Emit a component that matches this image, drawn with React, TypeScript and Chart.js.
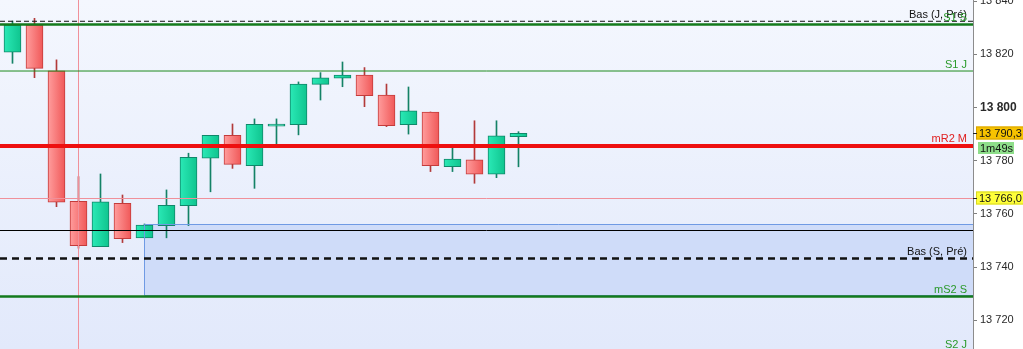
import { useEffect, useRef } from 'react';
import { Chart, registerables } from 'chart.js';

Chart.register(...registerables);

// OHLC for each bar, oldest first
const OPEN = [
  13820.8, 13831.0, 13813.8, 13764.7, 13747.7, 13764.0, 13751.0, 13755.6,
  13763.1, 13780.9, 13789.5, 13778.1, 13793.0, 13793.5, 13808.7, 13811.0,
  13812.2, 13804.7, 13793.5, 13798.3, 13777.7, 13780.3, 13774.9, 13789.0,
];
const HIGH = [
  13832.5, 13833.5, 13817.9, 13774.0, 13775.0, 13767.1, 13756.2, 13769.0,
  13782.8, 13789.5, 13793.8, 13795.7, 13795.7, 13809.6, 13813.1, 13817.1,
  13815.0, 13808.8, 13807.7, 13798.3, 13785.0, 13795.0, 13795.0, 13790.9,
];
const LOW = [
  13816.6, 13811.2, 13762.7, 13747.1, 13747.7, 13749.2, 13751.0, 13751.0,
  13755.6, 13768.3, 13777.1, 13769.6, 13785.3, 13789.7, 13802.8, 13807.8,
  13800.3, 13792.8, 13790.0, 13775.9, 13775.9, 13771.5, 13773.6, 13777.7,
];
const CLOSE = [
  13831.0, 13814.7, 13764.4, 13748.0, 13764.5, 13750.7, 13755.8, 13763.2,
  13781.3, 13789.5, 13778.6, 13793.7, 13793.5, 13808.8, 13811.1, 13812.2,
  13804.4, 13793.2, 13798.7, 13778.1, 13780.6, 13774.9, 13789.3, 13790.3,
];

// price axis
const Y_TICKS = [13720, 13740, 13760, 13780, 13800, 13820, 13840];
const Y_BOLD_TICK = 13800;
const Y_MIN = 13709.2;
const Y_MAX = 13840.4;
const X_MIN = -0.568;
const X_MAX = 43.66;

// support / resistance levels
const LEVEL_VALUES = [13832.4, 13831.2, 13813.7, 13785.5, 13743.2, 13728.9, 13708.5];
const LEVEL_NAMES = ['Bas (J, Pré)', 'S1 S', 'S1 J', 'mR2 M', 'Bas (S, Pré)', 'mS2 S', 'S2 J'];
const LEVEL_KINDS = ['low', 'weekly', 'daily', 'monthly', 'low2', 'weekly', 'daily'];

// plain reference line
const REF_LINE = 13753.9;

// highlighted zone starting at a bar
const ZONE_START = 6;
const ZONE_TOP = 13756.2;
const ZONE_BOTTOM = 13729.5;

// crosshair
const CURSOR_INDEX = 3;
const CURSOR_PRICE = 13766.0;

const LAST_PRICE = CLOSE[CLOSE.length - 1];
const COUNTDOWN = '1m49s';

const FONT = '"Liberation Sans", Arial, sans-serif';

const KIND_STYLE: Record<string, { color: string; text: string; width: number; dash: number[] }> = {
  low: { color: '#111111', text: '#111111', width: 1, dash: [5, 3] },
  low2: { color: '#111111', text: '#111111', width: 2.5, dash: [7, 5] },
  weekly: { color: '#137a1c', text: '#2a9a2a', width: 2.5, dash: [] },
  daily: { color: '#1e8a1e', text: '#2a9a2a', width: 1, dash: [] },
  monthly: { color: '#ee1010', text: '#e02020', width: 4, dash: [] },
};

function fmtPrice(v: number, decimals = 0): string {
  const s = v.toFixed(decimals);
  const [intPart, dec] = s.split('.');
  const withSpace = intPart.replace(/\B(?=(\d{3})+(?!\d))/g, ' ');
  return dec ? `${withSpace},${dec}` : withSpace;
}

type Candle = { x: number; y: [number, number]; up: boolean };

const bodies: Candle[] = OPEN.map((o, i) => ({ x: i, y: [o, CLOSE[i]], up: CLOSE[i] >= o }));
const wicks: Candle[] = OPEN.map((o, i) => ({ x: i, y: [LOW[i], HIGH[i]], up: CLOSE[i] >= o }));

const overlay = {
  id: 'overlay',
  beforeDraw(chart: any) {
    const { ctx, chartArea: a, width, height } = chart;
    ctx.save();
    ctx.fillStyle = '#ffffff';
    ctx.fillRect(0, 0, width, height);
    const g = ctx.createLinearGradient(0, a.top, 0, a.bottom);
    g.addColorStop(0, '#f4f7fe');
    g.addColorStop(1, '#e2e9fb');
    ctx.fillStyle = g;
    ctx.fillRect(a.left, a.top, a.right - a.left, a.bottom - a.top);
    ctx.restore();
  },
  beforeDatasetsDraw(chart: any) {
    const { ctx, chartArea: a, scales } = chart;
    const x0 = scales.x.getPixelForValue(ZONE_START);
    const yT = scales.y.getPixelForValue(ZONE_TOP);
    const yB = scales.y.getPixelForValue(ZONE_BOTTOM);
    ctx.save();
    ctx.fillStyle = '#cfdcf9';
    ctx.fillRect(x0, yT, a.right - x0, yB - yT);
    ctx.restore();
  },
  afterDatasetsDraw(chart: any) {
    const { ctx, chartArea: a, scales } = chart;
    const y = scales.y;
    ctx.save();
    ctx.beginPath();
    ctx.rect(a.left, a.top, a.right - a.left, a.bottom - a.top);
    ctx.clip();

    // zone outline
    const x0 = Math.round(scales.x.getPixelForValue(ZONE_START)) + 0.5;
    const yT = Math.round(y.getPixelForValue(ZONE_TOP)) + 0.5;
    const yB = Math.round(y.getPixelForValue(ZONE_BOTTOM)) + 0.5;
    ctx.strokeStyle = '#6f9ae4';
    ctx.lineWidth = 1;
    ctx.beginPath();
    ctx.moveTo(a.right, yT);
    ctx.lineTo(x0, yT);
    ctx.lineTo(x0, yB);
    ctx.lineTo(a.right, yB);
    ctx.stroke();

    // crosshair
    const cx = Math.round(scales.x.getPixelForValue(CURSOR_INDEX)) + 0.5;
    const cy = Math.round(y.getPixelForValue(CURSOR_PRICE)) + 0.5;
    ctx.strokeStyle = '#f0909a';
    ctx.beginPath();
    ctx.moveTo(cx, a.top);
    ctx.lineTo(cx, a.bottom);
    ctx.moveTo(a.left, cy);
    ctx.lineTo(a.right, cy);
    ctx.stroke();

    // reference line
    const ry = Math.round(y.getPixelForValue(REF_LINE)) + 0.5;
    ctx.strokeStyle = '#000000';
    ctx.beginPath();
    ctx.moveTo(a.left, ry);
    ctx.lineTo(a.right, ry);
    ctx.stroke();

    // levels
    LEVEL_VALUES.forEach((v, i) => {
      const st = KIND_STYLE[LEVEL_KINDS[i]];
      const py = y.getPixelForValue(v);
      ctx.strokeStyle = st.color;
      ctx.lineWidth = st.width;
      ctx.setLineDash(st.dash);
      ctx.beginPath();
      ctx.moveTo(a.left, py);
      ctx.lineTo(a.right, py);
      ctx.stroke();
    });
    ctx.setLineDash([]);
    ctx.restore();

    // level names
    ctx.save();
    ctx.font = `11px ${FONT}`;
    ctx.textAlign = 'right';
    ctx.textBaseline = 'alphabetic';
    LEVEL_VALUES.forEach((v, i) => {
      const st = KIND_STYLE[LEVEL_KINDS[i]];
      const py = y.getPixelForValue(v);
      ctx.fillStyle = st.text;
      ctx.fillText(LEVEL_NAMES[i], a.right - 6, py - st.width / 2 - 2.5);
    });
    ctx.restore();
  },
  afterDraw(chart: any) {
    const { ctx, chartArea: a, scales, width } = chart;
    const y = scales.y;
    ctx.save();
    ctx.font = `11px ${FONT}`;
    ctx.textBaseline = 'middle';
    ctx.textAlign = 'left';

    const box = (value: number, text: string, fill: string, stroke: string) => {
      const py = Math.round(y.getPixelForValue(value));
      ctx.fillStyle = fill;
      ctx.fillRect(a.right + 3, py - 6.5, width - a.right - 3, 13);
      ctx.strokeStyle = stroke;
      ctx.lineWidth = 1;
      ctx.strokeRect(a.right + 3.5, py - 6, width - a.right - 3, 12);
      ctx.strokeStyle = '#222';
      ctx.beginPath();
      ctx.moveTo(a.right, py + 0.5);
      ctx.lineTo(a.right + 4, py + 0.5);
      ctx.stroke();
      ctx.fillStyle = '#111';
      ctx.fillText(text, a.right + 6, py + 0.5);
      return py;
    };

    const lastY = box(LAST_PRICE, fmtPrice(LAST_PRICE, 1), '#f7c300', '#d9a300');
    box(CURSOR_PRICE, fmtPrice(CURSOR_PRICE, 1), '#ffff3a', '#d8d820');

    // countdown to next bar
    ctx.fillStyle = '#8ede8a';
    ctx.fillRect(a.right + 5, lastY + 9, 36, 12);
    ctx.fillStyle = '#111';
    ctx.fillText(COUNTDOWN, a.right + 7, lastY + 15.5);
    ctx.restore();
  },
};

function bodyFill(c: any) {
  const raw = c.raw as Candle | undefined;
  if (!raw) return '#18d39c';
  const solid = raw.up ? '#18d39c' : '#f77a7a';
  const xs = c.chart.scales && c.chart.scales.x;
  if (!xs) return solid;
  const x = xs.getPixelForValue(raw.x);
  if (!Number.isFinite(x)) return solid;
  const g = c.chart.ctx.createLinearGradient(x - 8.5, 0, x + 8.5, 0);
  if (raw.up) {
    g.addColorStop(0, '#2ae9b6');
    g.addColorStop(1, '#0fc48e');
  } else {
    g.addColorStop(0, '#ff9d9d');
    g.addColorStop(1, '#f05858');
  }
  return g;
}

export default function App() {
  const canvasRef = useRef<HTMLCanvasElement | null>(null);

  useEffect(() => {
    if (!canvasRef.current) return;
    const chart = new Chart(canvasRef.current, {
      type: 'bar',
      data: {
        datasets: [
          {
            label: 'body',
            data: bodies as any,
            grouped: false,
            barThickness: 17,
            borderWidth: 1,
            borderSkipped: false,
            minBarLength: 2,
            backgroundColor: bodyFill as any,
            borderColor: ((c: any) => (c.raw && !c.raw.up ? '#c43b3b' : '#10876a')) as any,
          },
          {
            label: 'wick',
            data: wicks as any,
            grouped: false,
            barThickness: 1,
            borderWidth: 0,
            borderSkipped: false,
            backgroundColor: ((c: any) => (c.raw && !c.raw.up ? '#b23a3a' : '#148266')) as any,
          },
        ],
      },
      plugins: [overlay],
      options: {
        animation: false,
        responsive: false,
        events: [],
        layout: { padding: 0, autoPadding: false } as any,
        plugins: { legend: { display: false }, tooltip: { enabled: false } },
        scales: {
          x: { type: 'linear', min: X_MIN, max: X_MAX, display: false, offset: false },
          y: {
            position: 'right',
            min: Y_MIN,
            max: Y_MAX,
            afterFit: (s: any) => {
              s.width = 50;
              s.paddingTop = 0;
              s.paddingBottom = 0;
              s.paddingLeft = 0;
              s.paddingRight = 0;
            },
            afterBuildTicks: (s: any) => {
              s.ticks = Y_TICKS.map((v) => ({ value: v }));
            },
            grid: { drawOnChartArea: false, drawTicks: true, tickLength: 4, color: '#7f7f7f' },
            border: { display: true, color: '#8c8c8c' },
            ticks: {
              padding: 3,
              color: '#2a2a2a',
              font: ((c: any) =>
                c.tick && c.tick.value === Y_BOLD_TICK
                  ? { family: FONT, size: 12, weight: 'bold' }
                  : { family: FONT, size: 11 }) as any,
              callback: (v: any) => fmtPrice(Number(v)),
            },
          },
        },
      },
    });
    return () => chart.destroy();
  }, []);

  return (
    <div style={{ position: 'absolute', left: 0, top: 0, width: 1023, height: 349 }}>
      <canvas ref={canvasRef} width={1023} height={349} style={{ display: 'block' }} />
    </div>
  );
}
